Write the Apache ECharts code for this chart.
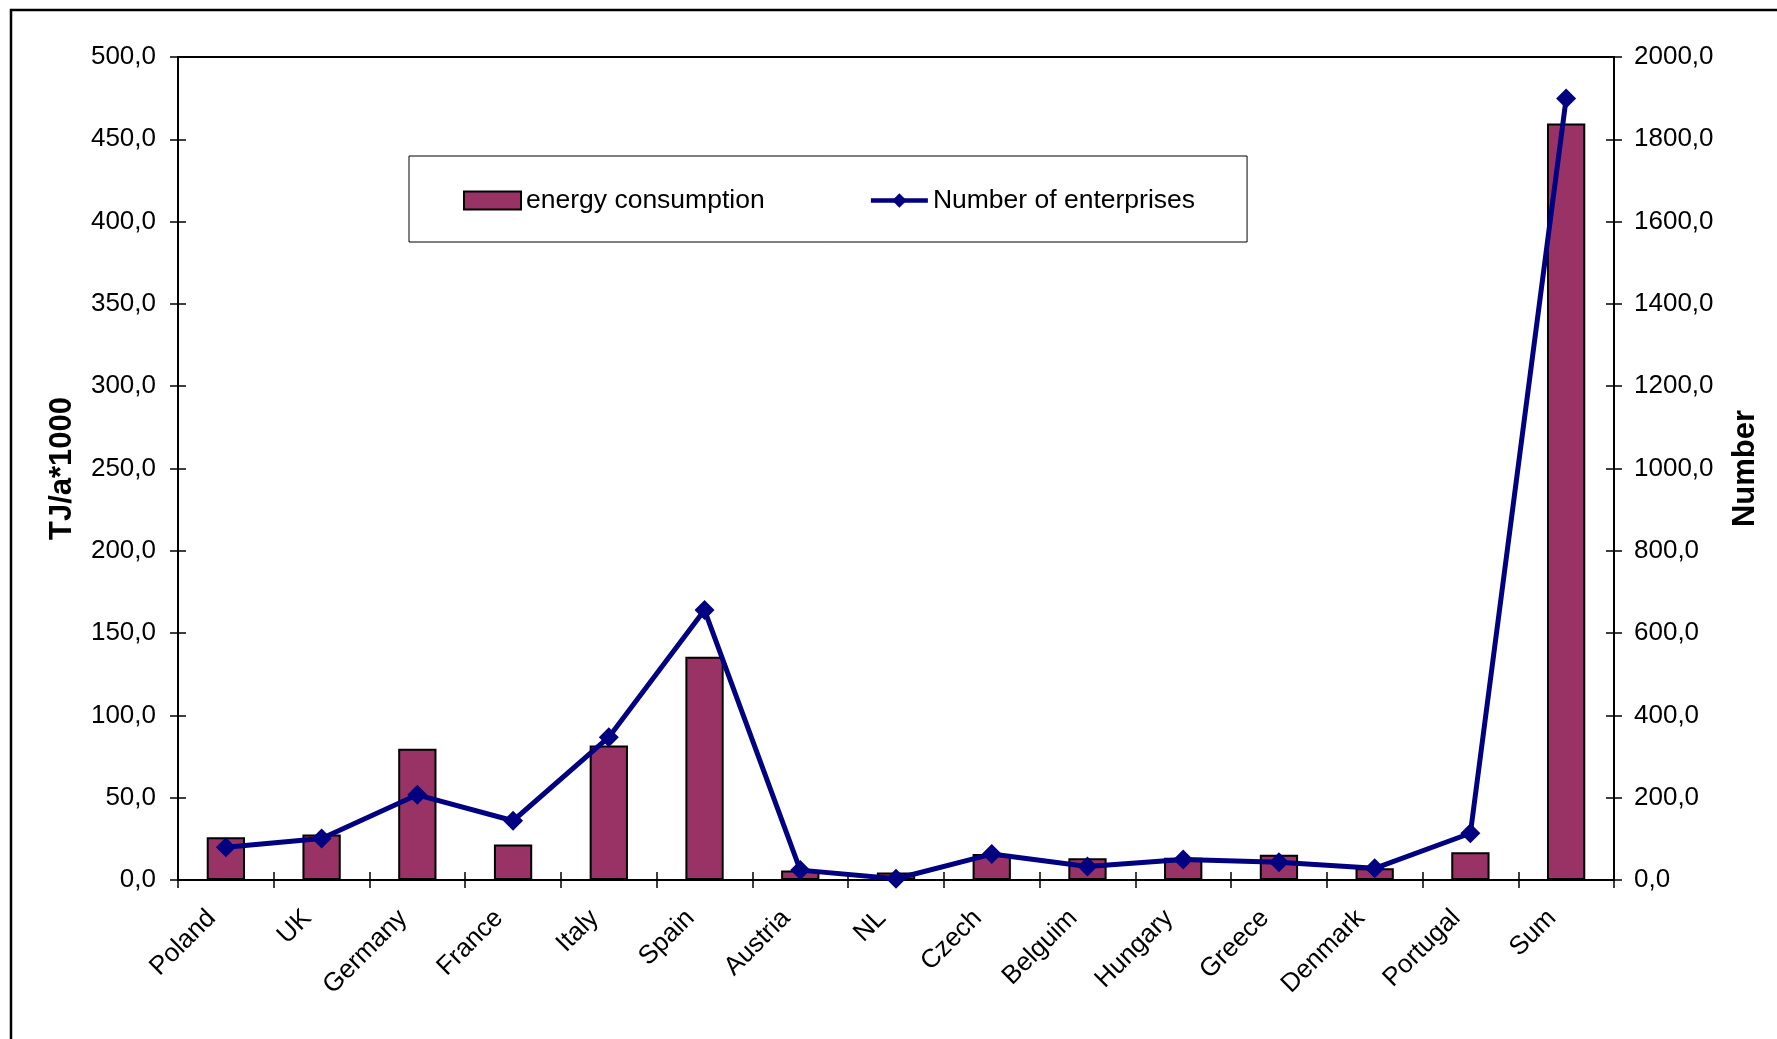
<!DOCTYPE html>
<html>
<head>
<meta charset="utf-8">
<script src="https://cdn.jsdelivr.net/npm/echarts@6/dist/echarts.min.js"></script>
<style>
  html, body { margin: 0; padding: 0; background: #fff; }
  #chart { width: 1777px; height: 1039px; }
</style>
</head>
<body>
<div id="chart"></div>
<script>
// Countries (plus the total) on the category axis
const countries = ['Poland', 'UK', 'Germany', 'France', 'Italy', 'Spain', 'Austria', 'NL',
  'Czech', 'Belguim', 'Hungary', 'Greece', 'Denmark', 'Portugal', 'Sum'];

// Energy consumption, TJ/a*1000 (left axis)
const energyConsumption = [26.0, 27.6, 79.7, 21.5, 81.7, 135.7, 5.7, 4.5,
  15.8, 13.2, 13.5, 15.4, 7.1, 16.8, 459.6];

// Number of enterprises (right axis)
const enterprises = [79.5, 101, 207, 144, 347, 656, 24, 3,
  63, 33, 50, 43, 28.4, 113.6, 1899];

// Axis ranges
const leftAxisMax = 500, leftAxisStep = 50;
const rightAxisMax = 2000, rightAxisStep = 200;

const FONT = '"Liberation Sans", Arial, sans-serif';
const fmt = v => v.toFixed(1).replace('.', ',');

const chart = echarts.init(document.getElementById('chart'), null, { renderer: 'canvas' });

const tickBase = { show: true, length: 8, lineStyle: { color: '#000', width: 1.5 } };

chart.setOption({
  backgroundColor: '#fff',
  animation: false,
  textStyle: { fontFamily: FONT, color: '#000' },
  graphic: [{
    type: 'rect',
    shape: { x: 11, y: 10, width: 1800, height: 1100 },
    style: { fill: 'none', stroke: '#000', lineWidth: 2.5 },
    silent: true,
    z: 0
  }],
  grid: {
    left: 178, right: 163, top: 57, bottom: 159,
    show: true, borderColor: '#000', borderWidth: 2, backgroundColor: 'transparent'
  },
  legend: {
    left: 409, top: 156,
    padding: [31, 52, 28, 54],
    itemGap: 104,
    itemWidth: 57, itemHeight: 18,
    borderColor: '#000', borderWidth: 1,
    textStyle: { fontFamily: FONT, fontSize: 26.5, color: '#000' },
    data: [
      { name: 'energy consumption', icon: 'rect' },
      { name: 'Number of enterprises', lineStyle: { width: 4.5, color: '#000080' } }
    ]
  },
  xAxis: [{
    type: 'category',
    data: countries,
    boundaryGap: true,
    axisLine: { lineStyle: { color: '#000', width: 2 } },
    axisTick: Object.assign({}, tickBase, { inside: false }),
    axisLabel: {
      rotate: 45, interval: 0, margin: 20, fontSize: 26, color: '#000', fontFamily: FONT,
      padding: [0, 20, 0, 0]
    },
    splitLine: { show: false }
  }, {
    type: 'category',
    data: countries,
    position: 'bottom',
    boundaryGap: true,
    axisLine: { show: false },
    axisTick: Object.assign({}, tickBase, { inside: true }),
    axisLabel: { show: false },
    splitLine: { show: false }
  }],
  yAxis: [{
    type: 'value',
    position: 'left',
    min: 0, max: leftAxisMax, interval: leftAxisStep,
    name: 'TJ/a*1000',
    nameLocation: 'middle',
    nameGap: 100,
    nameTextStyle: { fontFamily: FONT, fontSize: 31, fontWeight: 'bold', color: '#000' },
    axisLine: { show: true, lineStyle: { color: '#000', width: 2 } },
    axisTick: Object.assign({}, tickBase, { inside: false }),
    axisLabel: { formatter: fmt, margin: 22, fontSize: 26, color: '#000', fontFamily: FONT },
    splitLine: { show: false }
  }, {
    type: 'value',
    position: 'right',
    min: 0, max: rightAxisMax, interval: rightAxisStep,
    name: 'Number',
    nameLocation: 'middle',
    nameGap: 116,
    nameTextStyle: { fontFamily: FONT, fontSize: 31, fontWeight: 'bold', color: '#000' },
    axisLine: { show: true, lineStyle: { color: '#000', width: 2 } },
    axisTick: Object.assign({}, tickBase, { inside: false }),
    axisLabel: { formatter: fmt, margin: 20, fontSize: 26, color: '#000', fontFamily: FONT },
    splitLine: { show: false }
  }, {
    type: 'value',
    position: 'left',
    min: 0, max: leftAxisMax, interval: leftAxisStep,
    axisLine: { show: false },
    axisTick: Object.assign({}, tickBase, { inside: true }),
    axisLabel: { show: false },
    splitLine: { show: false }
  }, {
    type: 'value',
    position: 'right',
    min: 0, max: rightAxisMax, interval: rightAxisStep,
    axisLine: { show: false },
    axisTick: Object.assign({}, tickBase, { inside: true }),
    axisLabel: { show: false },
    splitLine: { show: false }
  }],
  series: [{
    name: 'energy consumption',
    type: 'bar',
    xAxisIndex: 0,
    yAxisIndex: 0,
    data: energyConsumption,
    barWidth: '40%',
    itemStyle: { color: '#993366', borderColor: '#000', borderWidth: 2 },
    z: 2
  }, {
    name: 'Number of enterprises',
    type: 'line',
    xAxisIndex: 0,
    yAxisIndex: 1,
    data: enterprises,
    symbol: 'diamond',
    symbolSize: 20,
    lineStyle: { color: '#000080', width: 5 },
    itemStyle: { color: '#000080' },
    z: 3
  }]
});
</script>
</body>
</html>
